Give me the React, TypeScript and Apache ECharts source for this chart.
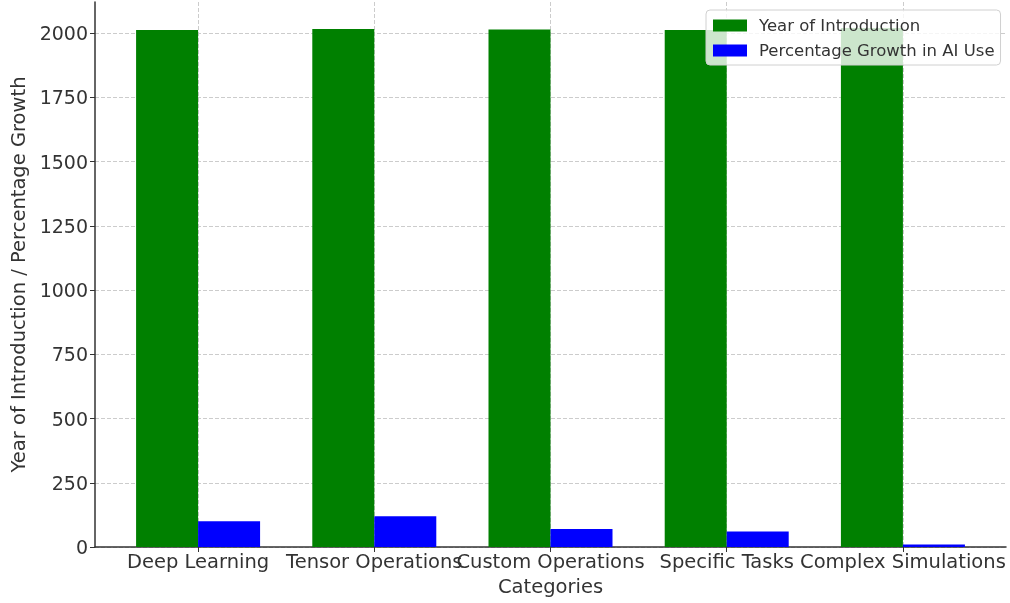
import React, { useEffect, useRef } from "react";
import * as echarts from "echarts";

const categories = ["Deep Learning", "Tensor Operations", "Custom Operations", "Specific Tasks", "Complex Simulations"];
const yearOfIntroduction = [2012, 2016, 2014, 2012, 2020];
const percentageGrowth = [100, 120, 70, 60, 10];
const yTicks = [0, 250, 500, 750, 1000, 1250, 1500, 1750, 2000];
const xTicks = [0, 1, 2, 3, 4];

export default function App() {
  const ref = useRef<HTMLDivElement>(null);
  useEffect(() => {
    if (!ref.current) return;
    const chart = echarts.init(ref.current, undefined, { renderer: "svg" });
    const font = "DejaVu Sans";
    const textColor = "#333";
    chart.setOption({
      animation: false,
      textStyle: { fontFamily: font },
      grid: { left: 95, right: 4, top: 2, bottom: 56, containLabel: false, outerBoundsMode: "none" },
      legend: {
        orient: "vertical",
        left: 706,
        top: 10,
        padding: [7, 6, 6, 7],
        itemWidth: 34,
        itemHeight: 12,
        itemGap: 8,
        backgroundColor: "rgba(255,255,255,0.8)",
        borderColor: "#d0d0d0",
        borderWidth: 1,
        borderRadius: 4,
        textStyle: { fontFamily: font, fontSize: 16.5, color: textColor, padding: [0, 0, 0, 7] },
        data: [
          { name: "Year of Introduction", icon: "rect" },
          { name: "Percentage Growth in AI Use", icon: "rect" },
        ],
      },
      xAxis: {
        type: "value",
        min: -0.585,
        max: 4.585,
        name: "Categories",
        nameLocation: "middle",
        nameGap: 29,
        nameTextStyle: { fontFamily: font, fontSize: 19.5, color: textColor },
        axisLine: { show: true, onZero: false, lineStyle: { color: "#333", width: 1.5 } },
        axisTick: { show: true, length: 5, customValues: xTicks, lineStyle: { color: "#333" } },
        axisLabel: {
          customValues: xTicks,
          formatter: (v: number) => categories[Math.round(v)] ?? "",
          fontFamily: font,
          fontSize: 19.5,
          color: textColor,
          margin: 4,
        },
        splitLine: { show: true, lineStyle: { color: "#cccccc", type: "dashed", width: 1 } },
      },
      yAxis: {
        type: "value",
        min: 0,
        max: 2121,
        interval: 250,
        name: "Year of Introduction / Percentage Growth",
        nameLocation: "middle",
        nameGap: 66,
        nameTextStyle: { fontFamily: font, fontSize: 19.5, color: textColor },
        axisLine: { show: true, onZero: false, lineStyle: { color: "#333", width: 1.5 } },
        axisTick: { show: true, length: 5, customValues: yTicks, lineStyle: { color: "#333" } },
        axisLabel: {
          customValues: yTicks,
          formatter: (v: number) => String(v),
          fontFamily: font,
          fontSize: 19,
          color: textColor,
          margin: 7,
        },
        splitLine: { show: true, lineStyle: { color: "#cccccc", type: "dashed", width: 1 } },
      },
      series: [
        {
          name: "Year of Introduction",
          type: "bar",
          barWidth: 62,
          barGap: "0%",
          itemStyle: { color: "#008000" },
          data: yearOfIntroduction.map((v, i) => [i, v]),
        },
        {
          name: "Percentage Growth in AI Use",
          type: "bar",
          barWidth: 62,
          barGap: "0%",
          itemStyle: { color: "#0000ff" },
          data: percentageGrowth.map((v, i) => [i, v]),
        },
      ],
    });
    return () => chart.dispose();
  }, []);
  return <div ref={ref} style={{ position: "fixed", left: 0, top: 0, width: 1010, height: 603 }} />;
}
